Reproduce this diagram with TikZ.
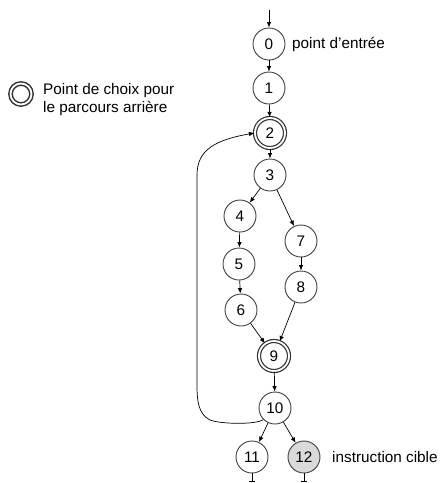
\documentclass[tikz,border=0pt]{standalone}
\usepackage{fontspec}
\setmainfont{Liberation Sans}
\usetikzlibrary{arrows.meta}
\begin{document}
\begin{tikzpicture}[x=1pt,y=-1pt,
  every node/.style={font=\fontsize{15.3}{18}\selectfont},
  st/.style={circle,draw=black!75,line width=0.9pt,minimum size=32pt,inner sep=0pt,fill=white},
  dbl/.style={circle,draw=black!80,line width=1.2pt,double=white,double distance=1.8pt,minimum size=30pt,inner sep=0pt},
  tgt/.style={st,fill=black!15},
  lbl/.style={anchor=base west,inner sep=0pt},
  edge/.style={-{Latex[length=5.5pt,width=4.5pt]},line width=0.7pt}]
\useasboundingbox (0,0) rectangle (442,483);
\node[st] (n0) at (269,44) {0};
\node[st] (n1) at (269,88) {1};
\node[dbl] (n2) at (270,133) {2};
\node[st] (n3) at (270,175) {3};
\node[st] (n4) at (240,216) {4};
\node[st] (n7) at (301,241) {7};
\node[st] (n5) at (239,264) {5};
\node[st] (n8) at (301,287) {8};
\node[st] (n6) at (241,310) {6};
\node[dbl] (n9) at (274,356) {9};
\node[st] (n10) at (275,408) {10};
\node[st] (n11) at (252,457) {11};
\node[tgt] (n12) at (304,457) {12};
\node[dbl,minimum size=21pt,line width=1.5pt,double distance=1.8pt] (leg) at (21,94) {};
\node[lbl,align=left,font=\fontsize{15.3}{18}\selectfont] (legt) at (43,112.7) {Point de choix pour\\le parcours arrière};
\node[lbl] (t0) at (292,48.5) {point d'entrée};
\node[lbl] (t12) at (332,462.5) {instruction cible};
\coordinate (in) at (269,10);
\coordinate (o11) at (252,481);
\coordinate (o12) at (304,481);
\draw[edge] (in) -- (n0);
\draw[edge] (n0) -- (n1);
\draw[edge] (n1) -- (n2);
\draw[edge] (n2) -- (n3);
\draw[edge] (n3) -- (n4);
\draw[edge] (n3) -- (n7);
\draw[edge] (n4) -- (n5);
\draw[edge] (n5) -- (n6);
\draw[edge] (n7) -- (n8);
\draw[edge] (n6) -- (n9);
\draw[edge] (n8) -- (n9);
\draw[edge] (n9) -- (n10);
\draw[edge] (n10) -- (n11);
\draw[edge] (n10) -- (n12);
\draw[line width=0.7pt] (n11) -- (o11);
\draw[line width=0.7pt] ([xshift=-3pt]o11) -- ([xshift=3pt]o11);
\draw[line width=0.7pt] (n12) -- (o12);
\draw[line width=0.7pt] ([xshift=-3pt]o12) -- ([xshift=3pt]o12);
\draw[edge] (n10.225) .. controls (255,425) and (220,424) .. (210,420)
  .. controls (198,414) and (197,400) .. (197,385)
  -- (197,175) .. controls (197,150) and (215,140) .. (n2.west);
\end{tikzpicture}
\end{document}
